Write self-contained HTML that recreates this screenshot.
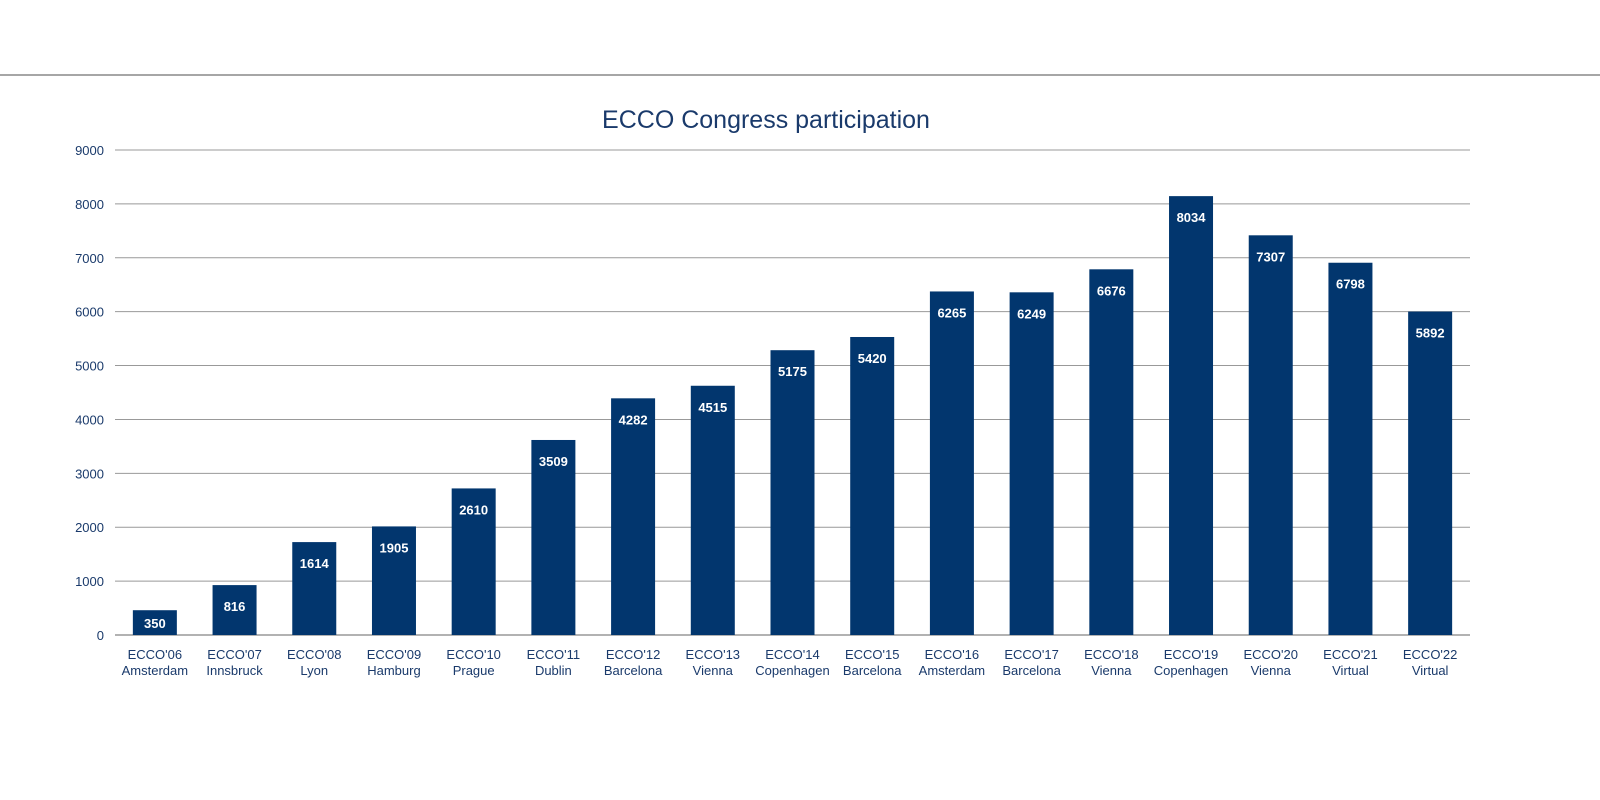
<!DOCTYPE html>
<html><head><meta charset="utf-8"><style>
body{margin:0;background:#fff;}
svg{display:block;font-family:"Liberation Sans",sans-serif;}
</style></head><body>
<svg id="chart" width="1600" height="800" viewBox="0 0 1600 800">
<line x1="0" y1="75" x2="1600" y2="75" stroke="#888" stroke-width="1.5"/>
<text x="766" y="128" text-anchor="middle" font-size="25" fill="#1a3a6b">ECCO Congress participation</text>
<g id="grid"></g><g id="bars"></g><g id="labels"></g>
</svg>
<script>
const years = ["ECCO'06","ECCO'07","ECCO'08","ECCO'09","ECCO'10","ECCO'11","ECCO'12","ECCO'13","ECCO'14","ECCO'15","ECCO'16","ECCO'17","ECCO'18","ECCO'19","ECCO'20","ECCO'21","ECCO'22"];
const cities = ["Amsterdam","Innsbruck","Lyon","Hamburg","Prague","Dublin","Barcelona","Vienna","Copenhagen","Barcelona","Amsterdam","Barcelona","Vienna","Copenhagen","Vienna","Virtual","Virtual"];
const participants = [350,816,1614,1905,2610,3509,4282,4515,5175,5420,6265,6249,6676,8034,7307,6798,5892];
const yTicks = [0,1000,2000,3000,4000,5000,6000,7000,8000,9000];

const NS="http://www.w3.org/2000/svg";
const x0=115,x1=1470,y0=635,yTop=150,yMax=9000;
const barOffset=110;
const yScale=v=>y0-(v/yMax)*(y0-yTop);
const band=(x1-x0)/years.length;
const xCenter=i=>x0+band*(i+0.5);
function mk(tag,attrs,parent,txt){const e=document.createElementNS(NS,tag);for(const k in attrs)e.setAttribute(k,attrs[k]);if(txt!==undefined)e.textContent=txt;parent.appendChild(e);return e;}
const grid=document.getElementById('grid'),bars=document.getElementById('bars'),labels=document.getElementById('labels');
yTicks.forEach(t=>{
  const y=yScale(t);
  const l=mk('line',{x1:x0,x2:x1,y1:y,y2:y,stroke:t===0?'#666':'#999','stroke-width':1},grid);
  
  
  const tx=mk('text',{x:104,y:y+5,'text-anchor':'end','font-size':13,fill:'#1a3a6b'},grid,String(t));
  
  
});
participants.forEach((v,i)=>{
  const cx=xCenter(i),w=44,top=yScale(v+barOffset);
  const r=mk('rect',{x:cx-w/2,y:top,width:w,height:y0-top,fill:'#02366e'},bars);
  
  
  const ly=Math.min(top+26,y0-7);
  const vl=mk('text',{x:cx,y:ly,'text-anchor':'middle','font-size':13,'font-weight':'bold',fill:'#fff'},labels,String(v));
  
  
  const c1=mk('text',{x:cx,y:659,'text-anchor':'middle','font-size':13,fill:'#1a3a6b'},labels,years[i]);
  
  
  const c2=mk('text',{x:cx,y:675,'text-anchor':'middle','font-size':13,fill:'#1a3a6b'},labels,cities[i]);
  
  
});
</script>
</body></html>
